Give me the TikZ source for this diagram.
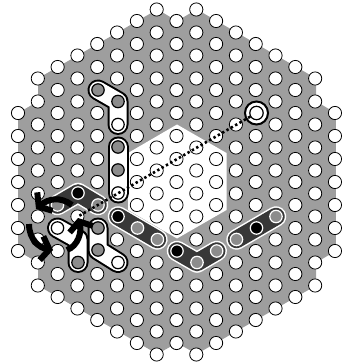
\documentclass[tikz,border=0pt]{standalone}
\usepackage{xcolor}
\usetikzlibrary{arrows.meta}
\definecolor{boardgray}{gray}{0.62}
\definecolor{darkpiece}{gray}{0.22}
\definecolor{midgray}{gray}{0.55}
\begin{document}
\begin{tikzpicture}[x=1pt,y=-1pt,
  hole/.style={circle, draw=black, fill=white, line width=0.8pt, minimum size=13.2pt, inner sep=0pt},
  graypeg/.style={hole, fill=midgray, line width=1.2pt, minimum size=12.4pt},
  whitepeg/.style={hole, line width=1.2pt, minimum size=12.4pt},
  greypeg/.style={hole, draw=white, fill=midgray, line width=1.2pt, minimum size=12.4pt},
  blackpeg/.style={hole, draw=white, fill=black, line width=1.2pt, minimum size=12.4pt},
  pillout/.style={line cap=round, line join=round, line width=21pt, draw=black},
  pillin/.style={line cap=round, line join=round, line width=17pt, draw=white},
  darkout/.style={line cap=round, line join=round, line width=20.5pt, draw=white},
  darkin/.style={line cap=round, line join=round, line width=17.5pt, draw=darkpiece},
  turn/.style={line width=6pt, draw=black, -{Straight Barb[length=8pt,width=24pt,line width=6pt]}}
]
\useasboundingbox (0,0) rectangle (346,363);
\fill[boardgray] (157.4,9.4) -- (177,21) -- (196.8,9.4) -- (316,78.4) -- (316,101.4) -- (335.8,113) -- (335.8,251) -- (316,262.6) -- (316,285.6) -- (196.8,354) -- (177,343) -- (157.4,354) -- (38,285.6) -- (38,262.6) -- (18,251) -- (18,113) -- (38,101.4) -- (38,78.4) -- cycle;
\fill[white] (177,124.5) -- (226.5,153) -- (226.5,210) -- (177,238.5) -- (128,210) -- (128,153) -- cycle;
% holes
\foreach \k/\n in {0/7,1/10,2/11,3/12,4/13,5/14,6/15,7/16,8/15,9/16,10/15,11/14,12/13,13/12,14/11,15/10,16/7}{
  \foreach \m in {1,...,\n}{
    \node[hole] (h\k-\m) at ({18+19.81*\k},{182+23*(\m-(\n+1)/2)}) {};
  }
}
% pieces
\draw[pillout] (98,90) -- (118,101.5) -- (118,124.5);
\draw[pillin] (98,90) -- (118,101.5) -- (118,124.5);
\draw[pillout] (118,147) -- (118,193);
\draw[pillin] (118,147) -- (118,193);
\draw[pillout] (98,228) -- (98,250) -- (118,262.5);
\draw[pillin] (98,228) -- (98,250) -- (118,262.5);
\draw[pillout] (57.5,228) -- (78,239.5) -- (78,262.5);
\draw[pillin] (57.5,228) -- (78,239.5) -- (78,262.5);
\draw[darkout] (57.5,205) -- (78,193) -- (98,205);
\draw[darkin] (57.5,205) -- (78,193) -- (98,205);
\draw[darkout] (118,216.5) -- (157.4,239.5);
\draw[darkin] (118,216.5) -- (157.4,239.5);
\draw[darkout] (177,251) -- (197,262.5) -- (216.7,251);
\draw[darkin] (177,251) -- (197,262.5) -- (216.7,251);
\draw[darkout] (236.5,239.5) -- (276,216.5);
\draw[darkin] (236.5,239.5) -- (276,216.5);
% pegs
\foreach \x/\y in {98/90,118/101.5,118/147,118/170,98/228,98/250,78/262.5}
  \node[graypeg] (p\x-\y) at (\x,\y) {};
\foreach \x/\y in {118/124.5,118/193,118/262.5,57.5/228}
  \node[whitepeg] (w\x-\y) at (\x,\y) {};
\foreach \x/\y in {98/205,57.5/205,137.5/228,157.4/239.5,197/262.5,216.7/251,236.5/239.5,276/216.5}
  \node[greypeg] (g\x-\y) at (\x,\y) {};
\foreach \x/\y in {78/193,118/216.5,177/251,256.5/228}
  \node[blackpeg] (b\x-\y) at (\x,\y) {};
% target
\node[circle, draw=black, fill=white, line width=2pt, minimum size=23pt, inner sep=0pt] (goalring) at (256.5,113) {};
\node[hole, line width=1.2pt, minimum size=13.4pt] (goal) at (256.5,113) {};
\coordinate (start) at (78,216.5);
\draw[line width=2.6pt, black, dash pattern=on 2.4pt off 2.6pt] (goal) -- (start);
% turns
\coordinate (a1) at (72,205);
\coordinate (a2) at (36,209);
\coordinate (b1) at (29,224);
\coordinate (b2) at (53,250);
\coordinate (c1) at (67,250);
\coordinate (c2) at (78,218);
\draw[turn] (a1) .. controls (60,196) and (48,199) .. (a2);
\draw[turn] (b1) .. controls (29,240) and (40,248) .. (b2);
\draw[turn] (c1) .. controls (78,246) and (82,232) .. (c2);
\end{tikzpicture}
\end{document}
